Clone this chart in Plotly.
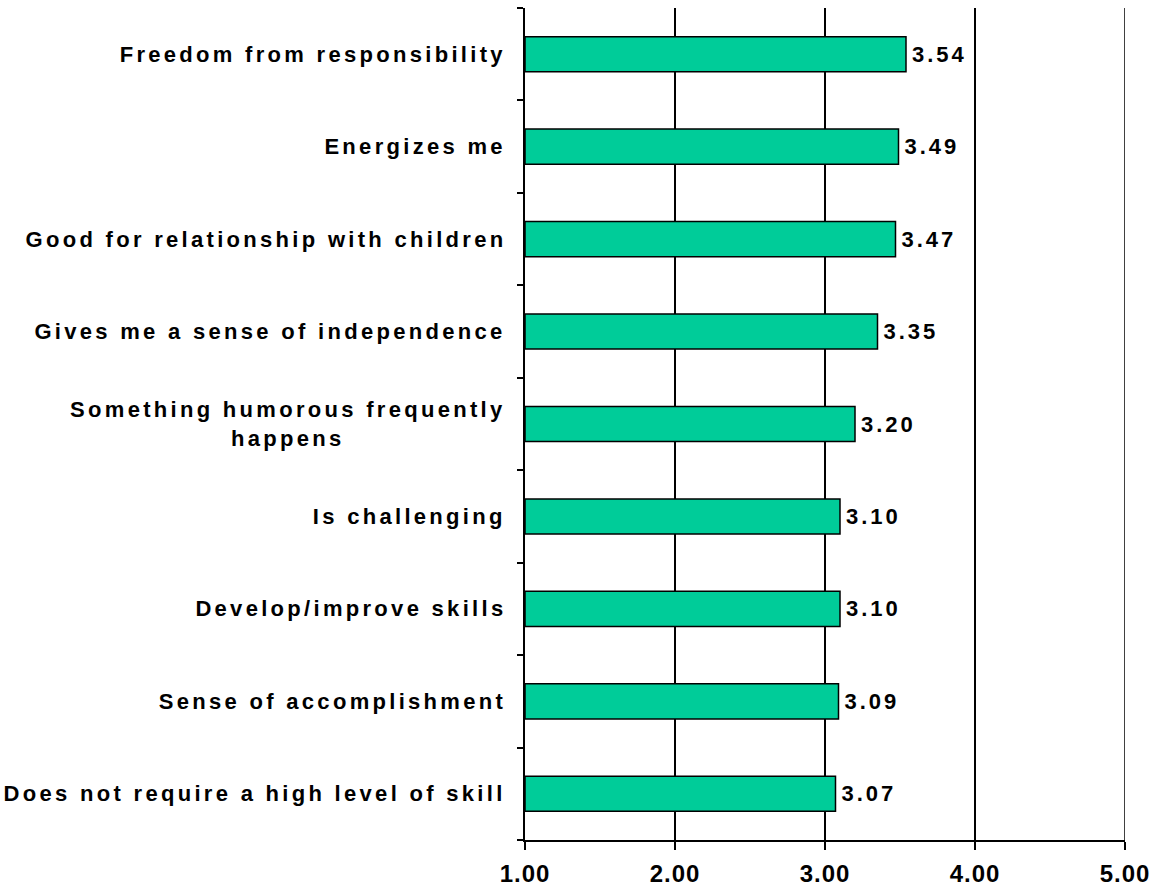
import plotly.graph_objects as go

categories = [
    "Freedom from responsibility",
    "Energizes me",
    "Good for relationship with children",
    "Gives me a sense of independence",
    "Something humorous frequently<br>happens",
    "Is challenging",
    "Develop/improve skills",
    "Sense of accomplishment",
    "Does not require a high level of skill",
]
scores = [3.54, 3.49, 3.47, 3.35, 3.20, 3.10, 3.10, 3.09, 3.07]
x_ticks = [1, 2, 3, 4, 5]
x_tick_labels = ["1.00", "2.00", "3.00", "4.00", "5.00"]

FONT = "Liberation Sans, Arial, sans-serif"

fig = go.Figure(
    go.Bar(
        y=categories,
        x=[s - 1 for s in scores],
        base=1,
        orientation="h",
        marker=dict(color="#00CC99", line=dict(color="black", width=1.5)),
        text=[f"{s:.2f}" for s in scores],
        textposition="outside",
        textfont=dict(family=FONT, size=22, color="black", weight="bold"),
        cliponaxis=False,
        width=0.38,
    )
)

# category labels drawn as annotations so wrapped lines stay centred
for cat in categories:
    fig.add_annotation(
        x=0, xref="paper", y=cat, yref="y",
        text=cat, showarrow=False,
        xanchor="right", xshift=-17, align="center",
        font=dict(family=FONT, size=22, color="black", weight="bold"),
    )

# right-hand gridline at 5.00
fig.add_shape(type="line", xref="x", yref="paper", x0=5, x1=5, y0=0, y1=1,
              line=dict(color="black", width=1.5))

fig.update_layout(
    width=1153, height=889,
    margin=dict(l=525, r=28, t=8, b=49, autoexpand=False),
    paper_bgcolor="white", plot_bgcolor="white",
    showlegend=False,
    xaxis=dict(
        range=[1, 5], tickvals=x_ticks, ticktext=x_tick_labels,
        showgrid=True, gridcolor="black", gridwidth=1.5,
        showline=True, linecolor="black", linewidth=2,
        ticks="outside", ticklen=8, tickwidth=2, tickcolor="black",
        ticklabelstandoff=0, automargin=False,
        tickfont=dict(family=FONT, size=24, color="black", weight="bold"),
        zeroline=False, fixedrange=True,
    ),
    yaxis=dict(
        categoryorder="array", categoryarray=categories[::-1],
        showticklabels=False, showgrid=False, automargin=False,
        showline=True, linecolor="black", linewidth=2,
        ticks="outside", tickson="boundaries", ticklen=6, tickwidth=2,
        tickcolor="black", zeroline=False,
    ),
)

# widen the tracking of the bold labels, keeping each label pinned
# to its original right edge (category labels) or left edge (bar values)
spacing_js = """
(function () {
  var gd = document.getElementById('{plot_id}');
  function track(sel, px, mode, extra, dy) {
    gd.querySelectorAll(sel).forEach(function (el) {
      var r0 = el.getBoundingClientRect();
      el.style.letterSpacing = px + 'px';
      var r1 = el.getBoundingClientRect();
      var dx = extra || 0;
      if (mode === 'right') dx += r0.right - r1.right;
      else if (mode === 'left') dx += r0.left - r1.left;
      var t = el.getAttribute('transform') || '';
      el.setAttribute('transform', 'translate(' + dx + ',' + (dy || 0) + ') ' + t);
    });
  }
  function run() {
    if (!gd || !gd.querySelector('.annotation-text') || !gd.querySelector('.bartext')) {
      setTimeout(run, 20);
      return;
    }
    track('.annotation-text', 3.3, 'right', 0, 0);
    track('.bartext', 3, 'left', 3, 0);
    track('.xtick text', 1, 'center', 0, 3);
  }
  run();
})();
"""

fig.write_html("out.html", post_script=spacing_js)
